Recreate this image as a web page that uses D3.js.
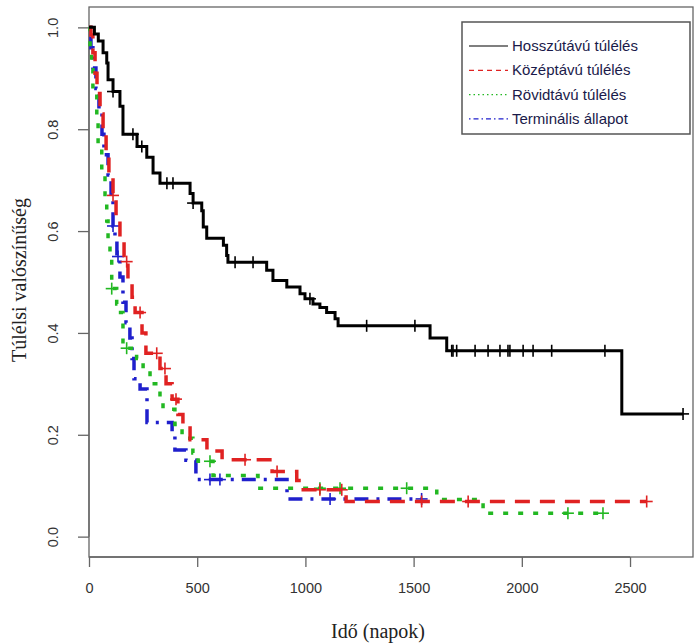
<!DOCTYPE html>
<html>
<head>
<meta charset="utf-8">
<script src="https://cdn.jsdelivr.net/npm/d3@7"></script>
<style>
  body { margin: 0; background: #fff; }
</style>
</head>
<body>
<div id="chart"></div>
<script>
// Axis ticks
const xTicks = [0, 500, 1000, 1500, 2000, 2500];
const yTicks = [0, 0.2, 0.4, 0.6, 0.8, 1.0];

// Hosszútávú túlélés (long-term)
const longTimes = [25, 43, 65, 82, 88, 111, 143, 157, 222, 267, 296, 328, 467, 481, 521, 528, 544, 621, 636, 642, 821, 850, 914, 975, 998, 1035, 1067, 1098, 1137, 1151, 1576, 1653, 2462];
const longSurv = [0.987, 0.973, 0.95, 0.93, 0.897, 0.874, 0.845, 0.79, 0.766, 0.745, 0.714, 0.694, 0.674, 0.655, 0.64, 0.608, 0.586, 0.572, 0.552, 0.539, 0.523, 0.503, 0.49, 0.477, 0.467, 0.457, 0.45, 0.44, 0.428, 0.414, 0.39, 0.365, 0.241];
const longCens = [111, 203, 244, 360, 388, 481, 675, 758, 1021, 1283, 1506, 1676, 1682, 1699, 1784, 1844, 1899, 1936, 1945, 2006, 2052, 2138, 2384, 2745];

// Középtávú túlélés (mid-term)
const midTimes = [9, 18, 28, 37, 51, 65, 79, 92, 111, 125, 143, 162, 180, 199, 213, 245, 263, 328, 356, 384, 411, 434, 467, 545, 615, 846, 960, 990, 1188];
const midSurv = [0.985, 0.95, 0.91, 0.87, 0.83, 0.79, 0.75, 0.71, 0.67, 0.62, 0.58, 0.54, 0.5, 0.47, 0.44, 0.4, 0.36, 0.33, 0.3, 0.27, 0.24, 0.22, 0.19, 0.168, 0.151, 0.128, 0.11, 0.092, 0.069];
const midCens = [111, 174, 236, 313, 351, 402, 721, 869, 1067, 1168, 1537, 1752, 2577];

// Rövidtávú túlélés (short-term)
const shortTimes = [5, 12, 18, 36, 42, 59, 74, 82, 88, 97, 105, 128, 134, 157, 220, 250, 282, 328, 342, 397, 430, 480, 504, 573, 781, 1607, 1821];
const shortSurv = [0.95, 0.917, 0.87, 0.82, 0.766, 0.72, 0.667, 0.62, 0.58, 0.546, 0.487, 0.457, 0.44, 0.37, 0.35, 0.33, 0.3, 0.27, 0.25, 0.22, 0.193, 0.164, 0.148, 0.12, 0.095, 0.073, 0.046];
const shortCens = [105, 174, 559, 1067, 1160, 1468, 2213, 2375];

// Terminális állapot (terminal)
const termTimes = [9, 18, 32, 46, 60, 69, 88, 102, 111, 120, 129, 143, 157, 171, 189, 199, 208, 236, 268, 384, 397, 448, 494, 915];
const termSurv = [0.96, 0.92, 0.88, 0.84, 0.79, 0.75, 0.71, 0.67, 0.61, 0.58, 0.55, 0.51, 0.46, 0.42, 0.39, 0.35, 0.31, 0.29, 0.224, 0.2, 0.17, 0.15, 0.112, 0.074];
const termCens = [111, 134, 559, 605, 1114, 1537];

const legendLabels = ["Hosszútávú túlélés", "Középtávú túlélés", "Rövidtávú túlélés", "Terminális állapot"];

const series = [
  { times: longTimes, surv: longSurv, cens: longCens, color: "#000000", dash: null, legDash: null, width: 3 },
  { times: midTimes, surv: midSurv, cens: midCens, color: "#e02222", dash: "15,10", legDash: "5,4", width: 3.5 },
  { times: shortTimes, surv: shortSurv, cens: shortCens, color: "#22b822", dash: "5,10", legDash: "1.5,3", width: 3.5 },
  { times: termTimes, surv: termSurv, cens: termCens, color: "#1f1fcc", dash: "3,8,14,8", legDash: "1.5,3,5,3", width: 3.5 },
];

const W = 694, H = 644;
const box = { left: 89, right: 693, top: 7, bottom: 557 };

const svg = d3.select("#chart").append("svg")
  .attr("width", W)
  .attr("height", H)
  .style("font-family", "'Liberation Sans', Arial, sans-serif");

// Scales (y extended 4% like R)
const x = d3.scaleLinear().domain([0, 2791]).range([box.left, box.right]);
const y = d3.scaleLinear().domain([-0.04, 1.04]).range([box.bottom, box.top]);

// Plot box
svg.append("rect")
  .attr("x", box.left).attr("y", box.top)
  .attr("width", box.right - box.left).attr("height", box.bottom - box.top)
  .attr("fill", "none").attr("stroke", "#666").attr("stroke-width", 1.3);

// X axis
const xAxisG = svg.append("g")
  .attr("transform", `translate(0,${box.bottom})`)
  .call(d3.axisBottom(x).tickValues(xTicks).tickFormat(d3.format("d")).tickSize(10).tickSizeOuter(0).tickPadding(16));
xAxisG.select(".domain").attr("stroke", "#666").attr("stroke-width", 1.3)
  .attr("d", `M${x(0)},0H${x(2500)}`);
xAxisG.selectAll(".tick line").attr("stroke", "#666").attr("stroke-width", 1.3);
xAxisG.selectAll(".tick text").attr("font-size", 14.5).attr("fill", "#333")
  .style("font-family", "'Liberation Sans', Arial, sans-serif");

// Y axis
const yAxisG = svg.append("g")
  .attr("transform", `translate(${box.left},0)`)
  .call(d3.axisLeft(y).tickValues(yTicks).tickFormat(d3.format(".1f")).tickSize(11).tickSizeOuter(0));
yAxisG.select(".domain").attr("stroke", "#666").attr("stroke-width", 1.3)
  .attr("d", `M0,${y(0)}V${y(1)}`);
yAxisG.selectAll(".tick line").attr("stroke", "#666").attr("stroke-width", 1.3);
yAxisG.selectAll(".tick text")
  .attr("font-size", 14.5).attr("fill", "#333")
  .attr("x", null).attr("dy", null)
  .attr("text-anchor", "middle")
  .attr("transform", "translate(-31,0) rotate(-90)")
  .style("font-family", "'Liberation Sans', Arial, sans-serif");

// Axis titles
svg.append("text")
  .attr("x", 378).attr("y", 638)
  .attr("text-anchor", "middle")
  .attr("font-family", "'Liberation Serif', 'Times New Roman', serif")
  .attr("font-size", 20).attr("fill", "#222")
  .text("Idő (napok)");

svg.append("text")
  .attr("transform", "translate(26,280) rotate(-90)")
  .attr("text-anchor", "middle")
  .attr("font-family", "'Liberation Serif', 'Times New Roman', serif")
  .attr("font-size", 20).attr("fill", "#222")
  .text("Túlélsi valószínűség");

// Survival step helper
function survAt(s, t) {
  let v = 1;
  for (let i = 0; i < s.times.length; i++) {
    if (s.times[i] <= t) v = s.surv[i];
  }
  return v;
}

const stepLine = d3.line()
  .x((d) => x(d[0]))
  .y((d) => y(d[1]))
  .curve(d3.curveStepAfter);

const plot = svg.append("g");

// Draw curves, back to front
[3, 2, 1, 0].forEach((k) => {
  const s = series[k];
  const end = s.cens[s.cens.length - 1];
  const pts = [[0, 1]].concat(s.times.map((t, i) => [t, s.surv[i]]));
  pts.push([end, s.surv[s.surv.length - 1]]);

  plot.append("path")
    .attr("d", stepLine(pts))
    .attr("fill", "none")
    .attr("stroke", s.color)
    .attr("stroke-width", s.width)
    .attr("stroke-dasharray", s.dash)
    .attr("stroke-linejoin", "miter");

  // censor marks (+)
  const g = plot.append("g").attr("stroke", s.color).attr("stroke-width", 1.6);
  s.cens.forEach((t) => {
    const cx = x(t), cy = y(survAt(s, t));
    g.append("line").attr("x1", cx).attr("x2", cx).attr("y1", cy - 6).attr("y2", cy + 6);
    g.append("line").attr("x1", cx - 6).attr("x2", cx + 6).attr("y1", cy).attr("y2", cy);
  });
});

// Legend
const leg = svg.append("g");
leg.append("rect")
  .attr("x", 462).attr("y", 22).attr("width", 228).attr("height", 112)
  .attr("fill", "#fff").attr("stroke", "#555").attr("stroke-width", 1.5);

legendLabels.forEach((label, i) => {
  const s = series[i];
  const ly = 46 + i * 24.3;
  leg.append("line")
    .attr("x1", 469).attr("x2", 508).attr("y1", ly).attr("y2", ly)
    .attr("stroke", s.color).attr("stroke-width", 1.2)
    .attr("stroke-dasharray", s.legDash);
  leg.append("text")
    .attr("x", 512).attr("y", ly + 5)
    .attr("font-size", 15).attr("fill", "#1a1a4a")
    .text(label);
});
</script>
</body>
</html>
